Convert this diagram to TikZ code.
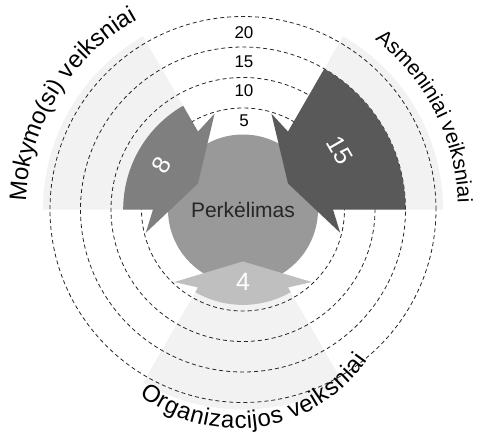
\documentclass[tikz,border=0pt]{standalone}
\usepackage{fontspec}
\setmainfont{Liberation Sans}
\usepackage{tikz}
\usetikzlibrary{decorations.text}

\definecolor{fadegray}{RGB}{242,242,242}
\definecolor{lightarrow}{RGB}{191,191,191}
\definecolor{midarrow}{RGB}{127,127,127}
\definecolor{darkarrow}{RGB}{89,89,89}
\definecolor{coregray}{RGB}{153,153,153}

\tikzset{
  backsector/.style={fill=fadegray},
  ring/.style={dash pattern=on 4pt off 3pt, line width=0.8pt, black!85},
  core/.style={circle, minimum size=150pt, inner sep=0pt, fill=coregray,
    text=black!85, font=\fontsize{21}{21}\selectfont},
  numlbl/.style={text=white, inner sep=0pt, font=\fontsize{25}{25}\selectfont},
  scalelbl/.style={inner sep=0pt, font=\fontsize{17}{17}\selectfont}
}

\begin{document}
\begin{tikzpicture}[x=1pt,y=1pt]
\useasboundingbox (-243,-230.5) rectangle (234,209.5);

\fill[backsector] (0,0) -- (120:200) arc[start angle=120,end angle=180,radius=200] -- cycle;
\fill[backsector] (0,0) -- (0:200) arc[start angle=0,end angle=60,radius=200] -- cycle;
\fill[backsector] (0,0) -- (240:200) arc[start angle=240,end angle=300,radius=200] -- cycle;

\draw[ring] (0,0) circle (101.5);
\draw[ring] (0,0) circle (132);
\draw[ring] (0,0) circle (162.5);
\draw[ring] (0,0) circle (193);

\node[core] (core) at (0,0) {Perkėlimas};

\fill[midarrow] (180:119.8) arc[start angle=180,end angle=120,radius=119.8]
  -- (120:90) -- (106.5:100) -- (150:52) -- (193.5:100) -- (180:90) -- cycle;
\fill[darkarrow] (60:162.5) arc[start angle=60,end angle=0,radius=162.5]
  -- (0:90) -- (-13.5:100) -- (30:52) -- (73.5:100) -- (60:90) -- cycle;
\fill[lightarrow] (300:95.4) arc[start angle=300,end angle=240,radius=95.4]
  -- (240:90) -- (226.5:100) -- (270:52) -- (313.5:100) -- (300:90) -- cycle;

\node[numlbl,rotate=60] (v8) at (151.4:92.9) {8};
\node[numlbl,rotate=-60] (v15) at (31.5:113.8) {15};
\node[numlbl] (v4) at (270:72) {4};

\node[scalelbl] (s20) at (1,176.5) {20};
\node[scalelbl] (s15) at (1,147.5) {15};
\node[scalelbl] (s10) at (1,118.5) {10};
\node[scalelbl] (s5) at (1,88.5) {5};

\path[decorate,decoration={text along path,text align=center,
  text={|\fontsize{24}{24}\selectfont|Mokymo(si) veiksniai}}]
  (188.5:217) arc[start angle=188.5,end angle=108.5,radius=217];
\path[decorate,decoration={text along path,text align=center,
  text={|\fontsize{21}{21}\selectfont|Asmeniniai veiksniai}}]
  (67:215) arc[start angle=67,end angle=-13,radius=215];
\path[decorate,decoration={text along path,text align=center,raise=-9pt,
  text={|\fontsize{24}{24}\selectfont|Organizacijos veiksniai}}]
  [shift={(-6,-60)}] (228.5:150) arc[start angle=228.5,end angle=328.5,radius=150];

\end{tikzpicture}
\end{document}
